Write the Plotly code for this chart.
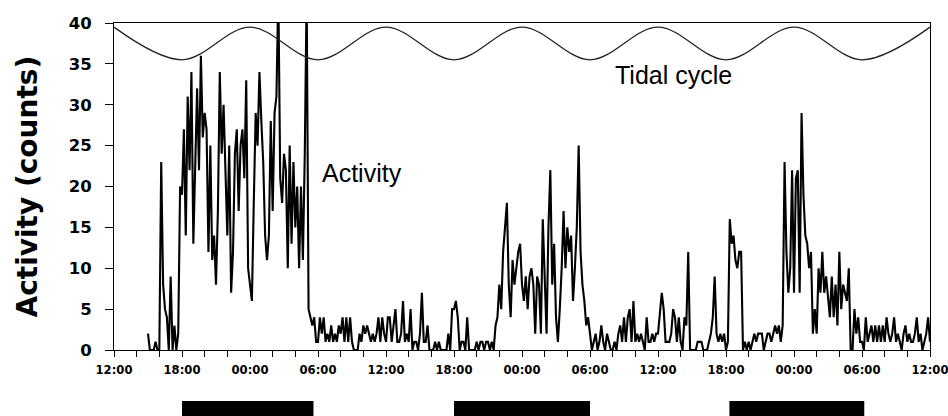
import numpy as np
import plotly.graph_objects as go

# ---------------- data ----------------
# activity counts in 10-minute bins, first bin at 15:00 on day 1 (hour 3 after 12:00)
activity_start_hour = 3.0
bin_hours = 1.0 / 6.0
activity_counts = [
    2, 0, 0, 0, 1, 0,        # 15:00
    0, 23, 8, 5, 4, 0,       # 16:00
    9, 0, 3, 0, 2, 20,       # 17:00
    19, 27, 14, 31, 22, 34,  # 18:00
    13, 23, 32, 22, 36, 26,  # 19:00
    29, 27, 12, 25, 11, 14,  # 20:00
    8, 17, 34, 24, 30, 22,   # 21:00
    14, 25, 7, 12, 24, 27,   # 22:00
    17, 25, 27, 21, 33, 10,  # 23:00
    8, 6, 18, 29, 25, 34,    # 00:00
    28, 23, 14, 11, 14, 28,  # 01:00
    17, 29, 31, 44, 21, 18,  # 02:00
    24, 22, 10, 25, 13, 23,  # 03:00
    15, 20, 10, 20, 11, 24,  # 04:00
    44, 5, 4, 3, 4, 1,       # 05:00
    1, 4, 2, 4, 1, 2,        # 06:00
    1, 3, 1, 2, 1, 3,        # 07:00
    2, 4, 1, 4, 1, 4,        # 08:00
    1, 0, 0, 0, 2, 1,        # 09:00
    3, 2, 3, 2, 1, 2,        # 10:00
    1, 2, 4, 1, 4, 2,        # 11:00
    1, 4, 4, 1, 3, 5,        # 12:00
    1, 1, 2, 6, 1, 2,        # 13:00
    1, 5, 0, 1, 1, 0,        # 14:00
    2, 7, 1, 1, 3, 0,        # 15:00
    0, 0, 1, 0, 1, 0,        # 16:00
    0, 0, 0, 2, 0, 5,        # 17:00
    5, 6, 4, 0, 1, 1,        # 18:00
    0, 4, 0, 0, 0, 0,        # 19:00
    1, 0, 1, 1, 0, 1,        # 20:00
    1, 0, 1, 0, 3, 4,        # 21:00
    8, 5, 12, 15, 18, 8,     # 22:00
    4, 11, 8, 10, 12, 13,    # 23:00
    8, 6, 9, 5, 9, 10,       # 00:00
    8, 2, 9, 8, 2, 16,       # 01:00
    10, 2, 15, 22, 8, 13,    # 02:00
    4, 1, 5, 10, 17, 10,     # 03:00
    15, 12, 14, 6, 10, 15,   # 04:00
    25, 12, 8, 6, 3, 4,      # 05:00
    2, 0, 1, 2, 0, 1,        # 06:00
    3, 1, 0, 2, 1, 0,        # 07:00
    0, 1, 0, 2, 3, 1,        # 08:00
    4, 1, 4, 5, 1, 6,        # 09:00
    1, 2, 1, 2, 1, 0,        # 10:00
    4, 1, 1, 2, 1, 2,        # 11:00
    2, 5, 7, 5, 1, 1,        # 12:00
    1, 2, 5, 4, 1, 4,        # 13:00
    1, 0, 4, 3, 12, 0,       # 14:00
    0, 0, 0, 1, 1, 1,        # 15:00
    0, 0, 0, 1, 2, 4,        # 16:00
    9, 2, 1, 2, 1, 2,        # 17:00
    0, 1, 16, 13, 14, 11,    # 18:00
    10, 12, 12, 0, 1, 0,     # 19:00
    1, 0, 1, 2, 1, 2,        # 20:00
    2, 2, 0, 1, 2, 2,        # 21:00
    1, 2, 3, 2, 3, 1,        # 22:00
    3, 23, 12, 7, 10, 22,    # 23:00
    7, 21, 22, 7, 29, 19,    # 00:00
    14, 13, 10, 12, 2, 5,    # 01:00
    2, 10, 7, 12, 7, 9,      # 02:00
    6, 4, 9, 4, 8, 3,        # 03:00
    12, 5, 8, 7, 6, 10,      # 04:00
    0, 0, 5, 2, 4, 1,        # 05:00
    1, 0, 4, 1, 2, 3,        # 06:00
    1, 3, 1, 3, 1, 3,        # 07:00
    1, 4, 2, 1, 2, 4,        # 08:00
    1, 2, 1, 0, 2, 3,        # 09:00
    1, 2, 1, 1, 2, 4,        # 10:00
    1, 2, 0, 1, 2, 4,        # 11:00
    1,                       # 12:00
]

# tidal cycle: high / low water times (hours after 12:00 day 1) and curve levels
tide_hours = [0, 6, 12, 18, 24, 30, 36, 42, 48, 54, 60, 66, 72]
tide_levels = [39.5, 35.5, 39.5, 35.5, 39.5, 35.5, 39.5, 35.5, 39.5, 35.5, 39.5, 35.5, 39.5]

# dark periods (hours after 12:00 day 1)
night_start = [6.0, 30.0, 54.3]
night_end = [17.6, 42.0, 66.2]

# axis ticks
x_tick_labels = ["12:00", "18:00", "00:00", "06:00",
                 "12:00", "18:00", "00:00", "06:00",
                 "12:00", "18:00", "00:00", "06:00", "12:00"]
y_tick_values = [0, 5, 10, 15, 20, 25, 30, 35, 40]

# ---------------- figure ----------------
activity_hours = activity_start_hour + np.arange(len(activity_counts)) * bin_hours

fig = go.Figure()
fig.add_trace(go.Scatter(
    x=activity_hours, y=activity_counts, mode="lines",
    line=dict(color="black", width=2.1), showlegend=False, hoverinfo="skip"))
fig.add_trace(go.Scatter(
    x=tide_hours, y=tide_levels, mode="lines",
    line=dict(color="#222222", width=1.3, shape="spline", smoothing=1.0),
    showlegend=False, hoverinfo="skip"))

tick_positions = list(range(0, 73, 2))
tick_text = []
for t in tick_positions:
    tick_text.append(x_tick_labels[t // 6] if t % 6 == 0 else "")

fig.update_xaxes(
    range=[0, 72], tickvals=tick_positions, ticktext=tick_text,
    showline=True, linecolor="black", linewidth=1, mirror=True,
    ticks="outside", ticklen=6, tickcolor="black", tickwidth=1,
    tickfont=dict(family="DejaVu Sans", size=11.6, color="black", weight="bold"),
    showgrid=False, zeroline=False, ticklabelstandoff=3,
    ticklabeloverflow="allow", automargin=False)
fig.update_yaxes(
    range=[0, 40], tickvals=y_tick_values,
    showline=True, linecolor="black", linewidth=1, mirror=True,
    ticks="outside", ticklen=8, tickcolor="black", tickwidth=1,
    tickfont=dict(family="DejaVu Sans", size=16.5, color="black", weight="bold"),
    showgrid=False, zeroline=False, ticklabelstandoff=10, automargin=False)

for s, e in zip(night_start, night_end):
    fig.add_shape(type="rect", xref="x", yref="paper", x0=s, x1=e,
                  y0=-0.156, y1=-0.25, fillcolor="black", line=dict(width=0),
                  layer="above")

fig.add_annotation(text="Activity", x=18.2, y=21.7, xref="x", yref="y",
                   xanchor="left", yanchor="middle", showarrow=False,
                   font=dict(family="Liberation Sans", size=25, color="black"))
fig.add_annotation(text="Tidal cycle", x=44.0, y=33.6, xref="x", yref="y",
                   xanchor="left", yanchor="middle", showarrow=False,
                   font=dict(family="Liberation Sans", size=25, color="black"))
fig.add_annotation(text="Activity (counts)", x=-0.1066, y=0.5, xref="paper", yref="paper",
                   xanchor="center", yanchor="middle", textangle=-90, showarrow=False,
                   font=dict(family="DejaVu Sans", size=28, color="black", weight="bold"))

fig.update_layout(
    width=948, height=416,
    margin=dict(l=114, r=18, t=23, b=66),
    paper_bgcolor="white", plot_bgcolor="white")

fig.write_html("out.html")
